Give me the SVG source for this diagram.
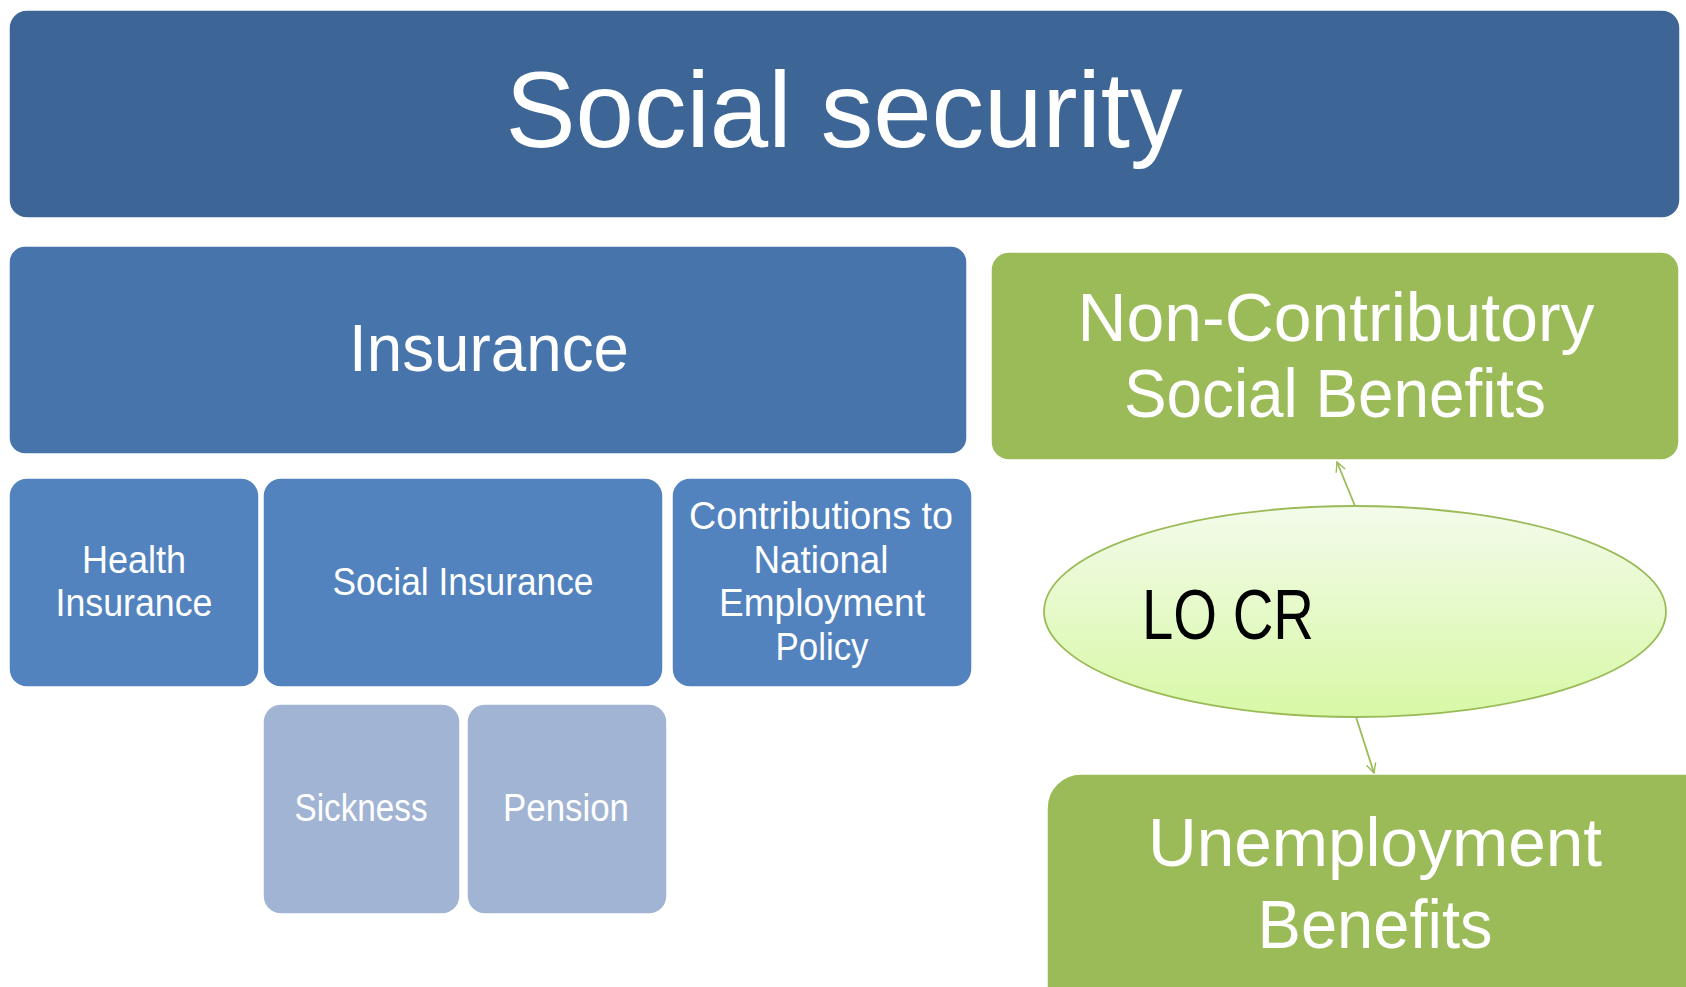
<svg xmlns="http://www.w3.org/2000/svg" width="1686" height="987" viewBox="0 0 1686 987">
<style>
  text { font-family: "Liberation Sans", Arial, sans-serif; fill: #ffffff; text-anchor: middle; }
  .box { stroke: #ffffff; stroke-width: 1.5; }
  .top { fill: #3D6696; }
  .ins { fill: #4674AB; }
  .sub { fill: #5283BE; }
  .leaf { fill: #A2B4D4; }
  .green { fill: #9BBB59; }
  .conn { stroke: #9BBB59; stroke-width: 1.8; fill: none; marker-end: url(#arr); }
  .s38 { font-size: 38px; }
</style>
<defs>
  <linearGradient id="eg" x1="0" y1="0" x2="0" y2="1">
    <stop offset="0" stop-color="#F3FBEA"/>
    <stop offset="1" stop-color="#D8F8A6"/>
  </linearGradient>
  <marker id="arr" viewBox="0 0 20 20" refX="18" refY="10" markerWidth="12" markerHeight="12" markerUnits="userSpaceOnUse" orient="auto">
    <path d="M2,2 L18,10 L2,18" fill="none" stroke="#9BBB59" stroke-width="2.4"/>
  </marker>
</defs>
<rect width="1686" height="987" fill="#ffffff"/>

<g id="social-security">
  <rect class="box top" x="9" y="10" width="1671" height="208" rx="18"/>
  <text x="844" y="147" font-size="108" textLength="677" lengthAdjust="spacingAndGlyphs">Social security</text>
</g>

<g id="insurance">
  <rect class="box ins" x="9" y="246" width="958" height="208" rx="16"/>
  <text x="489" y="371" font-size="67" textLength="280" lengthAdjust="spacingAndGlyphs">Insurance</text>
</g>

<g id="non-contributory">
  <rect class="box green" x="991" y="252" width="688" height="208" rx="18"/>
  <text font-size="68"><tspan x="1336" y="341" textLength="517" lengthAdjust="spacingAndGlyphs">Non-Contributory</tspan><tspan x="1335" y="417" textLength="422" lengthAdjust="spacingAndGlyphs">Social Benefits</tspan></text>
</g>

<g id="health-insurance">
  <rect class="box sub" x="9" y="478" width="250" height="209" rx="18"/>
  <text class="s38"><tspan x="134" y="573" textLength="104" lengthAdjust="spacingAndGlyphs">Health</tspan><tspan x="134" y="616" textLength="157" lengthAdjust="spacingAndGlyphs">Insurance</tspan></text>
</g>

<g id="social-insurance">
  <rect class="box sub" x="263" y="478" width="400" height="209" rx="18"/>
  <text class="s38" x="463" y="595" textLength="261" lengthAdjust="spacingAndGlyphs">Social Insurance</text>
</g>

<g id="contributions">
  <rect class="box sub" x="672" y="478" width="300" height="209" rx="18"/>
  <text class="s38"><tspan x="821" y="529" textLength="264" lengthAdjust="spacingAndGlyphs">Contributions to</tspan><tspan x="821" y="572.5" textLength="135" lengthAdjust="spacingAndGlyphs">National</tspan><tspan x="822" y="616" textLength="206" lengthAdjust="spacingAndGlyphs">Employment</tspan><tspan x="822" y="659.5" textLength="93" lengthAdjust="spacingAndGlyphs">Policy</tspan></text>
</g>

<g id="sickness">
  <rect class="box leaf" x="263" y="704" width="197" height="210" rx="18"/>
  <text class="s38" x="361" y="821" textLength="133" lengthAdjust="spacingAndGlyphs">Sickness</text>
</g>

<g id="pension">
  <rect class="box leaf" x="467" y="704" width="200" height="210" rx="18"/>
  <text class="s38" x="566" y="821" textLength="126" lengthAdjust="spacingAndGlyphs">Pension</text>
</g>

<g id="lo-cr">
  <ellipse cx="1355" cy="611.5" rx="311" ry="105.5" fill="url(#eg)" stroke="#9BBB59" stroke-width="1.8"/>
  <text x="1142" y="639" font-size="70" textLength="172" lengthAdjust="spacingAndGlyphs" style="fill:#000000;text-anchor:start">LO CR</text>
</g>

<g id="unemployment">
  <rect class="box green" x="1047" y="774" width="680" height="260" rx="34"/>
  <text font-size="69"><tspan x="1375" y="866" textLength="454" lengthAdjust="spacingAndGlyphs">Unemployment</tspan><tspan x="1375" y="948" textLength="235" lengthAdjust="spacingAndGlyphs">Benefits</tspan></text>
</g>

<g id="connectors">
  <line class="conn" x1="1355" y1="506" x2="1337" y2="462"/>
  <line class="conn" x1="1356" y1="717" x2="1374" y2="773"/>
</g>
</svg>
